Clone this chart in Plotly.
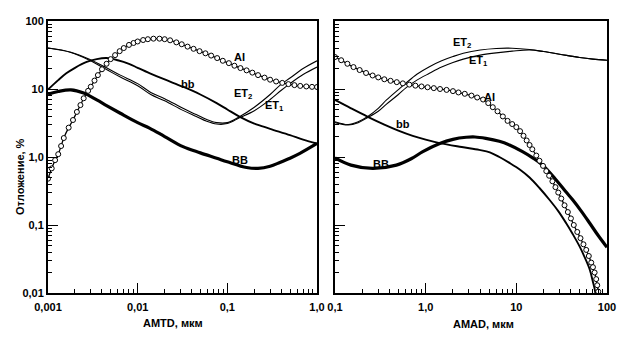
import plotly.graph_objects as go

# ---------------- data: left panel (AMTD, um) ----------------
et_l_x = [0.001, 0.0018, 0.0029, 0.0045, 0.0064, 0.01, 0.014, 0.02, 0.032, 0.045, 0.059, 0.076,
          0.1, 0.138, 0.2, 0.3, 0.4, 0.5, 0.7, 1.0]
et2_l = [40, 34.8, 27.5, 20.5, 16, 12, 8.9, 7.2, 5.2, 4.2, 3.55, 3.2,
         3.2, 3.95, 5.4, 8.3, 11.8, 14.5, 20, 26]
et1_l = [40, 34.4, 26.5, 19.3, 15, 11.2, 8.3, 6.7, 4.85, 3.95, 3.35, 3.05,
         3.1, 3.8, 4.8, 7.0, 9.6, 12, 16.3, 21]

bb_l_x = [0.001, 0.0013, 0.0016, 0.002, 0.0027, 0.0035, 0.0045, 0.006, 0.008, 0.01, 0.0137,
          0.02, 0.032, 0.05, 0.076, 0.1, 0.138, 0.2, 0.3, 0.5, 0.7, 1.0]
bb_l = [9.8, 13.5, 17, 20.5, 25, 27.5, 28.5, 26.5, 23.5, 20.5, 17,
        13.8, 10.8, 8.3, 6.2, 5.0, 3.9, 3.1, 2.6, 2.1, 1.8, 1.58]

BB_l_x = [0.001, 0.0013, 0.0018, 0.0025, 0.0035, 0.0045, 0.0064, 0.01, 0.0137, 0.02, 0.032,
          0.05, 0.076, 0.1, 0.164, 0.22, 0.3, 0.385, 0.5, 0.645, 1.0]
BB_l = [8.4, 9.2, 9.7, 8.7, 6.9, 5.7, 4.4, 3.2, 2.64, 2.0, 1.42,
        1.15, 0.96, 0.85, 0.70, 0.68, 0.73, 0.83, 0.96, 1.13, 1.58]

ai_l_x = [0.001, 0.0011, 0.0012, 0.0013, 0.0014, 0.0015, 0.0017, 0.0019, 0.0021, 0.0023, 0.0025,
          0.0028, 0.003, 0.0033, 0.0036, 0.004, 0.0045, 0.005, 0.0056, 0.0063, 0.007, 0.008,
          0.009, 0.01, 0.0115, 0.013, 0.015, 0.0175, 0.02, 0.023, 0.027, 0.031, 0.036, 0.042,
          0.049, 0.057, 0.066, 0.077, 0.089, 0.104, 0.12, 0.14, 0.164, 0.19, 0.22, 0.26, 0.3,
          0.35, 0.41, 0.48, 0.56, 0.65, 0.76, 0.88, 1.0]
ai_l = [0.48, 0.68, 0.9, 1.1, 1.45, 1.9, 2.7, 3.5, 4.6, 5.8, 7.3,
        9.4, 10.8, 13.3, 16, 19.5, 23.5, 27.5, 31.5, 36, 40, 44.5,
        47.5, 50, 52.5, 54, 55, 55, 54, 52, 48.5, 45.5, 42, 39,
        36, 33.5, 31, 28.5, 26, 24, 22, 20.3, 18.8, 17.4, 16, 14.7, 13.7,
        12.9, 12.3, 11.8, 11.4, 11.1, 10.9, 10.75, 10.7]

# ---------------- data: right panel (AMAD, um) ----------------
et_r_x = [0.1, 0.14, 0.18, 0.23, 0.3, 0.37, 0.5, 0.61, 0.8, 1.1, 1.5, 2.0, 2.6, 4, 6, 9, 14,
          20, 30, 50, 70, 100]
et2_r = [3.3, 3.0, 3.3, 3.95, 5.2, 6.9, 9.8, 12.3, 16.5, 21.3, 26, 30, 33.5, 37.5, 39.5, 39.8, 38,
         35.5, 32.5, 29, 27.5, 26.5]
et1_r = [3.2, 2.95, 3.2, 3.8, 4.7, 6.0, 8.3, 10.5, 13.5, 17, 21, 24.5, 27.5, 31.5, 34, 36, 37.5,
         35.5, 32.5, 29, 27.5, 26.5]

bb_r_x = [0.1, 0.15, 0.23, 0.35, 0.5, 0.72, 1.0, 1.43, 2.5, 3.9, 5.1, 6.5, 8.4, 11, 14, 18, 23.3,
          29, 35.5, 42, 50, 57, 64.6, 70, 73, 76]
bb_r = [6.9, 5.2, 3.9, 3.0, 2.45, 2.05, 1.8, 1.6, 1.4, 1.27, 1.17, 1.0, 0.82, 0.65, 0.5, 0.35, 0.233,
        0.16, 0.106, 0.073, 0.048, 0.033, 0.022, 0.0145, 0.0115, 0.0085]

BB_r_x = [0.1, 0.15, 0.26, 0.475, 0.7, 0.93, 1.43, 2.0, 2.8, 3.5, 4.6, 6.5, 8.4, 11.7, 15, 19.5,
          27.5, 35, 42, 52, 64.6, 80, 100]
BB_r = [0.97, 0.76, 0.68, 0.76, 0.95, 1.2, 1.58, 1.82, 1.95, 1.97, 1.88, 1.7, 1.5, 1.2, 0.98, 0.76,
        0.46, 0.31, 0.233, 0.16, 0.106, 0.07, 0.047]

ai_r_x = [0.1, 0.117, 0.137, 0.16, 0.187, 0.22, 0.26, 0.3, 0.35, 0.41, 0.48, 0.56, 0.66, 0.77,
          0.9, 1.05, 1.23, 1.44, 1.7, 2.0, 2.3, 2.7, 3.2, 3.7, 4.3, 4.9, 5.5, 6.2, 7.1, 8.0, 9.0,
          10, 11, 12, 13, 14, 15, 16.6, 18, 19.7, 21.4, 23, 25, 27, 29, 31.3, 34, 37, 40, 43, 47,
          51, 55, 59, 63, 67, 70, 73, 76, 78, 80, 82, 85]
ai_r = [29.5, 26.5, 23.5, 21, 19, 17.2, 15.8, 14.8, 13.9, 13.2, 12.6, 12.1, 11.6, 11.2,
        10.9, 10.6, 10.3, 10.0, 9.7, 9.3, 8.9, 8.5, 8.0, 7.5, 7.0, 6.2, 5.4, 4.7, 3.95, 3.4, 3.05,
        2.75, 2.4, 2.05, 1.75, 1.5, 1.3, 1.05, 0.88, 0.74, 0.62, 0.53, 0.44, 0.36, 0.3, 0.245, 0.195,
        0.155, 0.125, 0.1, 0.079, 0.064, 0.052, 0.043, 0.035, 0.028, 0.024, 0.02, 0.016, 0.013,
        0.0105, 0.0085, 0.006]

x_left_ticks = [0.001, 0.01, 0.1, 1.0]
x_left_text = ["0,001", "0,01", "0,1", "1,0"]
x_right_ticks = [0.1, 1.0, 10, 100]
x_right_text = ["0,1", "1,0", "10", "100"]
y_ticks = [0.01, 0.1, 1.0, 10, 100]
y_text = ["0,01", "0,1", "1,0", "10", "100"]
x_left_mid = [0.005, 0.05, 0.5]
x_right_mid = [0.5, 5, 50]
y_mid = [0.05, 0.5, 5, 50]

FONT = "Liberation Sans, Arial, sans-serif"
BLACK = "#000000"

fig = go.Figure()


def line(x, y, w, xa, ya, shape="spline"):
    fig.add_trace(go.Scatter(x=x, y=y, mode="lines", xaxis=xa, yaxis=ya,
                             line=dict(color=BLACK, width=w, shape=shape, smoothing=1.0),
                             showlegend=False, hoverinfo="skip", cliponaxis=True))


def circles(x, y, xa, ya):
    fig.add_trace(go.Scatter(x=x, y=y, mode="lines+markers", xaxis=xa, yaxis=ya,
                             line=dict(color=BLACK, width=1.3, shape="spline", smoothing=1.0),
                             marker=dict(symbol="circle", size=5, color="white",
                                         line=dict(color=BLACK, width=1)),
                             showlegend=False, hoverinfo="skip", cliponaxis=True))


# left panel
line(et_l_x, et2_l, 1.1, "x", "y")
line(et_l_x, et1_l, 1.1, "x", "y")
line(bb_l_x, bb_l, 1.9, "x", "y")
line(BB_l_x, BB_l, 3.2, "x", "y")
circles(ai_l_x, ai_l, "x", "y")
# right panel
line(et_r_x, et2_r, 1.1, "x2", "y2")
line(et_r_x, et1_r, 1.1, "x2", "y2")
line(bb_r_x, bb_r, 1.9, "x2", "y2")
line(BB_r_x, BB_r, 3.2, "x2", "y2")
circles(ai_r_x, ai_r, "x2", "y2")

W, H = 633, 338
L_dom = [48 / W, 317 / W]
R_dom = [335 / W, 607 / W]
Y_dom = [1 - 293 / H, 1 - 21 / H]

tickfont = dict(family=FONT, size=11, color=BLACK, weight="bold")
minor = dict(ticks="inside", ticklen=4, tickwidth=1, tickcolor=BLACK, dtick="D1", showgrid=False)

base_axis = dict(type="log", showgrid=False, zeroline=False, showline=True, linewidth=2,
                 linecolor=BLACK, mirror=True, ticks="inside", ticklen=10, tickwidth=1,
                 tickcolor=BLACK, tickfont=tickfont, minor=minor, automargin=False)

mid_axis = dict(type="log", showgrid=False, zeroline=False, showline=False, ticks="inside",
                ticklen=7, tickwidth=1, tickcolor=BLACK, showticklabels=False, automargin=False)

fig.update_layout(
    template="none",
    width=W, height=H, margin=dict(l=0, r=0, t=0, b=0, autoexpand=False),
    paper_bgcolor="white", plot_bgcolor="white", showlegend=False,
    font=dict(family=FONT, color=BLACK, size=11),
    xaxis=dict(base_axis, domain=L_dom, range=[-3, 0], anchor="y",
               tickmode="array", tickvals=x_left_ticks, ticktext=x_left_text,
               ticklabelstandoff=3),
    yaxis=dict(base_axis, domain=Y_dom, range=[-2, 2], anchor="x",
               tickmode="array", tickvals=y_ticks, ticktext=y_text),
    xaxis2=dict(base_axis, domain=R_dom, range=[-1, 2], anchor="y2",
                tickmode="array", tickvals=x_right_ticks, ticktext=x_right_text,
                ticklabelstandoff=3),
    yaxis2=dict(base_axis, domain=Y_dom, range=[-2, 2], anchor="x2",
                tickmode="array", tickvals=y_ticks, showticklabels=False),
    xaxis3=dict(mid_axis, domain=L_dom, range=[-3, 0], anchor="y3", overlaying="x",
                tickmode="array", tickvals=x_left_mid),
    yaxis3=dict(mid_axis, domain=Y_dom, range=[-2, 2], anchor="x3", overlaying="y",
                tickmode="array", tickvals=y_mid),
    xaxis4=dict(mid_axis, domain=R_dom, range=[-1, 2], anchor="y4", overlaying="x2",
                tickmode="array", tickvals=x_right_mid),
    yaxis4=dict(mid_axis, domain=Y_dom, range=[-2, 2], anchor="x4", overlaying="y2",
                tickmode="array", tickvals=y_mid),
)

lab_font = dict(family=FONT, size=11, color=BLACK, weight="bold")
labels = [
    ("x", "y", -0.86, 1.47, "AI"),
    ("x", "y", -1.44, 1.074, "bb"),
    ("x", "y", -0.83, 0.93, "ET<sub>2</sub>"),
    ("x", "y", -0.47, 0.75, "ET<sub>1</sub>"),
    ("x", "y", -0.86, -0.044, "BB"),
    ("x2", "y2", 0.40, 1.676, "ET<sub>2</sub>"),
    ("x2", "y2", 0.58, 1.41, "ET<sub>1</sub>"),
    ("x2", "y2", 0.706, 0.882, "AI"),
    ("x2", "y2", -0.254, 0.485, "bb"),
    ("x2", "y2", -0.496, -0.10, "BB"),
]
for xr, yr, lx, ly, t in labels:
    fig.add_annotation(x=lx, y=ly, xref=xr, yref=yr, text=t, showarrow=False,
                       font=lab_font, xanchor="center", yanchor="middle")

title_font = dict(family=FONT, size=11, color=BLACK, weight="bold")
fig.add_annotation(x=173 / W, y=1 - 322.7 / H, xref="paper", yref="paper", text="AMTD, мкм",
                   showarrow=False, font=title_font, xanchor="center", yanchor="middle")
fig.add_annotation(x=483 / W, y=1 - 324 / H, xref="paper", yref="paper", text="AMAD, мкм",
                   showarrow=False, font=title_font, xanchor="center", yanchor="middle")
fig.add_annotation(x=20 / W, y=1 - 177 / H, xref="paper", yref="paper", text="Отложение, %",
                   textangle=-90, showarrow=False, font=title_font,
                   xanchor="center", yanchor="middle")

fig.write_html("out.html")
